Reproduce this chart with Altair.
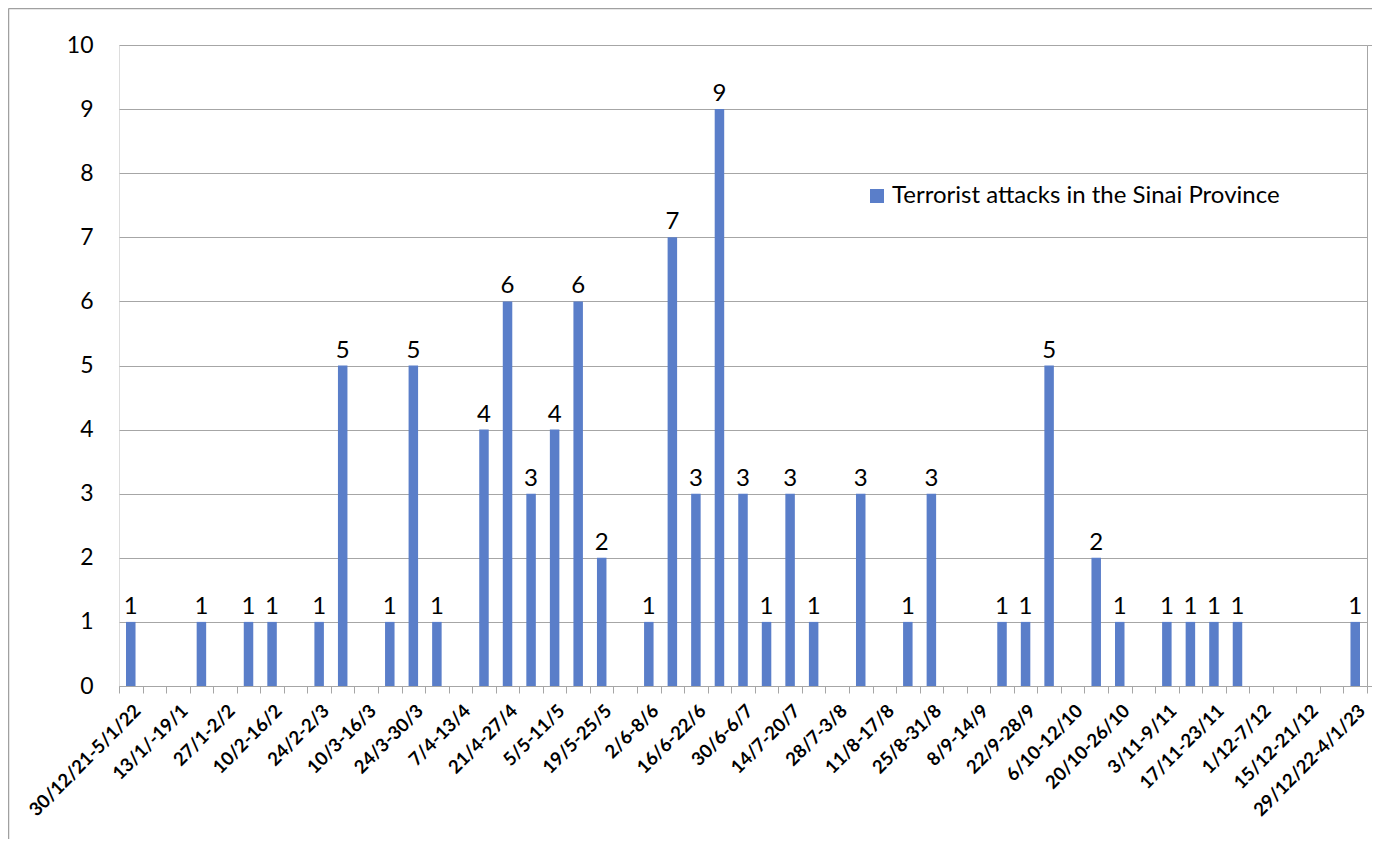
import altair as alt
import pandas as pd

categories = [
    "30/12/21-5/1/22", "6/1-12/1", "13/1/-19/1", "20/1-26/1", "27/1-2/2", "3/2-9/2",
    "10/2-16/2", "17/2-23/2", "24/2-2/3", "3/3-9/3", "10/3-16/3", "17/3-23/3",
    "24/3-30/3", "31/3-6/4", "7/4-13/4", "14/4-20/4", "21/4-27/4", "28/4-4/5",
    "5/5-11/5", "12/5-18/5", "19/5-25/5", "26/5-1/6", "2/6-8/6", "9/6-15/6",
    "16/6-22/6", "23/6-29/6", "30/6-6/7", "7/7-13/7", "14/7-20/7", "21/7-27/7",
    "28/7-3/8", "4/8-10/8", "11/8-17/8", "18/8-24/8", "25/8-31/8", "1/9-7/9",
    "8/9-14/9", "15/9-21/9", "22/9-28/9", "29/9-5/10", "6/10-12/10", "13/10-19/10",
    "20/10-26/10", "27/10-2/11", "3/11-9/11", "10/11-16/11", "17/11-23/11", "24/11-30/11",
    "1/12-7/12", "8/12-14/12", "15/12-21/12", "22/12-28/12", "29/12/22-4/1/23",
]
attacks = [
    1, 0, 0, 1, 0, 1, 1, 0, 1, 5, 0, 1,
    5, 1, 0, 4, 6, 3, 4, 6, 2, 0, 1, 7,
    3, 9, 3, 1, 3, 1, 0, 3, 0, 1, 3, 0,
    0, 1, 1, 5, 0, 2, 1, 0, 1, 1, 1, 1,
    0, 0, 0, 0, 1,
]
series_name = "Terrorist attacks in the Sinai Province"
y_ticks = list(range(0, 11))

BLUE = "#5A7EC9"
GRID = "#A6A6A6"
FONT = "Lato"
W, H = 1248, 641

df = pd.DataFrame({"week": categories, "attacks": attacks, "series": series_name})
df_nz = df[df["attacks"] > 0]

cats_js = "[" + ",".join("'" + c + "'" for c in categories) + "]"
label_expr = f"indexof({cats_js}, datum.value) % 2 == 0 ? datum.label : ''"

x_scale = alt.Scale(domain=categories, paddingInner=0, paddingOuter=0)
y_scale = alt.Scale(domain=[0, 10], nice=False)

x_enc = alt.X(
    "week:N",
    sort=categories,
    scale=x_scale,
    axis=alt.Axis(
        title=None,
        labelExpr=label_expr,
        labelAngle=-45,
        labelAlign="right",
        labelBaseline="top",
        labelFont=FONT,
        labelFontSize=18.5,
        labelFontWeight="bold",
        labelColor="black",
        labelPadding=8,
        labelOverlap=False,
        labelBound=False,
        labelLimit=0,
        tickBand="extent",
        tickSize=7,
        tickColor=GRID,
        domainColor=GRID,
        grid=False,
    ),
)

bars = alt.Chart(df_nz).mark_bar(size=9.5).encode(
    x=x_enc,
    y=alt.Y(
        "attacks:Q",
        scale=y_scale,
        axis=alt.Axis(
            title=None,
            values=y_ticks,
            orient="left",
            domain=False,
            ticks=False,
            grid=True,
            gridColor=GRID,
            gridWidth=1,
            labelFont=FONT,
            labelFontSize=23,
            labelColor="black",
            labelPadding=26,
        ),
    ),
    color=alt.Color(
        "series:N",
        scale=alt.Scale(domain=[series_name], range=[BLUE]),
        legend=alt.Legend(
            title=None,
            orient="none",
            legendX=746,
            legendY=139,
            symbolType="square",
            symbolSize=196,
            symbolStrokeWidth=0,
            labelFont=FONT,
            labelFontSize=24,
            labelColor="black",
            labelOffset=3,
            labelLimit=0,
            padding=0,
        ),
    ),
)

labels = alt.Chart(df_nz).mark_text(
    baseline="bottom", dy=-3, font=FONT, fontSize=24, color="black"
).encode(
    x=alt.X("week:N", sort=categories, scale=x_scale),
    y=alt.Y("attacks:Q", scale=y_scale, axis=None),
    text="attacks:Q",
)

right_axis = alt.Chart(df_nz).mark_bar(opacity=0).encode(
    x=alt.X("week:N", sort=categories, scale=x_scale),
    y=alt.Y(
        "attacks:Q",
        scale=y_scale,
        axis=alt.Axis(
            title=None,
            orient="right",
            values=[0, 10],
            labels=False,
            grid=False,
            domain=True,
            domainColor=GRID,
            ticks=True,
            tickColor=GRID,
            tickSize=8,
        ),
    ),
)

frame = pd.DataFrame({"b": [0]})
border_left = alt.Chart(frame).mark_rule(color="#A0A0A0", strokeWidth=1.5).encode(
    x=alt.value(-110.5), y=alt.value(-36.5), y2=alt.value(900)
)
border_top = alt.Chart(frame).mark_rule(color="#A0A0A0", strokeWidth=1.5).encode(
    x=alt.value(-110.5), x2=alt.value(1400), y=alt.value(-36.5)
)

chart = (
    alt.layer(bars, labels, right_axis, border_left, border_top)
    .resolve_axis(y="independent")
    .properties(
        width=W,
        height=H,
        autosize=alt.AutoSizeParams(type="none"),
        padding={"left": 111, "top": 37, "right": 5, "bottom": 153},
    )
    .configure_view(stroke=None)
    .configure(background="white")
)

chart.save("out.html", embed_options={"renderer": "svg", "actions": False})
